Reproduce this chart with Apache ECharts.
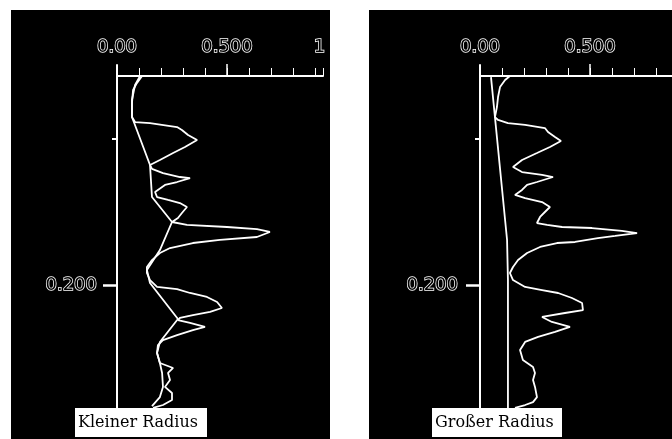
<!DOCTYPE html>
<html>
<head>
<meta charset="utf-8">
<script src="https://cdn.jsdelivr.net/npm/echarts@6/dist/echarts.min.js"></script>
<style>
html,body{margin:0;padding:0;background:#fff;}
#chart{width:672px;height:439px;}
</style>
</head>
<body>
<div id="chart"></div>
<script>
// ---- data (x = value on top axis, y = depth on vertical axis) ----
const panelTitles = ['Kleiner Radius', 'Großer Radius'];

const leftXLabelValues = [0, 0.5, 0.92];
const leftXLabelTexts = ['0.00', '0.500', '1'];
const rightXLabelValues = [0, 0.5];
const rightXLabelTexts = ['0.00', '0.500'];
const yLabelValues = [0.2];
const yLabelTexts = ['0.200'];
const yMinorTickValues = [0.1];

const leftCurve = [
  [0.114,0.0575],[0.091,0.0622],[0.073,0.0670],[0.068,0.0759],[0.068,0.0854],[0.082,0.0888],
  [0.150,0.0895],[0.273,0.0922],[0.295,0.0942],[0.323,0.0976],[0.364,0.1010],[0.309,0.1058],
  [0.255,0.1099],[0.195,0.1146],[0.150,0.1180],[0.159,0.1207],[0.209,0.1235],[0.286,0.1262],
  [0.332,0.1269],[0.273,0.1296],[0.218,0.1316],[0.173,0.1364],[0.182,0.1398],[0.232,0.1418],
  [0.286,0.1439],[0.318,0.1466],[0.295,0.1507],[0.277,0.1541],[0.250,0.1568],[0.318,0.1588],
  [0.500,0.1602],[0.636,0.1616],[0.695,0.1636],[0.636,0.1670],[0.468,0.1690],[0.345,0.1711],
  [0.241,0.1745],[0.195,0.1779],[0.159,0.1827],[0.136,0.1874],[0.136,0.1915],[0.150,0.1963],
  [0.182,0.2010],[0.273,0.2024],[0.332,0.2051],[0.409,0.2078],[0.455,0.2112],[0.477,0.2153],
  [0.423,0.2180],[0.345,0.2201],[0.286,0.2221],[0.277,0.2235],[0.332,0.2255],[0.400,0.2282],
  [0.345,0.2303],[0.273,0.2337],[0.209,0.2371],[0.186,0.2405],[0.182,0.2459],[0.195,0.2527],
  [0.255,0.2561],[0.232,0.2595],[0.241,0.2643],[0.218,0.2690],[0.250,0.2731],[0.250,0.2779],
  [0.209,0.2813],[0.164,0.2833]
];
const leftBase = [
  [0.105,0.0575],[0.082,0.0636],[0.068,0.0738],[0.068,0.0854],[0.150,0.1180],[0.159,0.1398],
  [0.250,0.1568],[0.195,0.1759],[0.136,0.1895],[0.150,0.1983],[0.277,0.2228],[0.195,0.2384],
  [0.182,0.2459],[0.195,0.2527],[0.205,0.2595],[0.209,0.2690],[0.195,0.2759],[0.159,0.2820]
];
const rightCurve = [
  [0.136,0.0575],[0.114,0.0602],[0.091,0.0650],[0.082,0.0718],[0.077,0.0786],[0.068,0.0854],
  [0.082,0.0874],[0.127,0.0895],[0.205,0.0908],[0.295,0.0929],[0.309,0.0956],[0.341,0.0990],
  [0.368,0.1017],[0.318,0.1058],[0.259,0.1099],[0.191,0.1146],[0.150,0.1194],[0.191,0.1228],
  [0.282,0.1248],[0.332,0.1262],[0.259,0.1296],[0.214,0.1316],[0.191,0.1350],[0.159,0.1384],
  [0.205,0.1405],[0.282,0.1432],[0.318,0.1466],[0.295,0.1500],[0.273,0.1534],[0.259,0.1575],
  [0.305,0.1588],[0.373,0.1602],[0.509,0.1609],[0.645,0.1629],[0.714,0.1643],[0.614,0.1663],
  [0.536,0.1677],[0.432,0.1704],[0.350,0.1711],[0.273,0.1738],[0.214,0.1779],[0.173,0.1827],
  [0.150,0.1874],[0.136,0.1915],[0.150,0.1963],[0.205,0.2010],[0.282,0.2031],[0.355,0.2051],
  [0.418,0.2085],[0.464,0.2119],[0.468,0.2167],[0.386,0.2187],[0.282,0.2214],[0.327,0.2248],
  [0.409,0.2282],[0.341,0.2316],[0.264,0.2350],[0.205,0.2384],[0.182,0.2439],[0.195,0.2507],
  [0.241,0.2554],[0.250,0.2595],[0.241,0.2643],[0.250,0.2690],[0.259,0.2759],[0.241,0.2793],
  [0.205,0.2813],[0.159,0.2833]
];
const rightBase = [
  [0.050,0.0582],[0.123,0.1690],[0.127,0.1963],[0.127,0.3000]
];

// ---- chart ----
const labelFont = {
  color: '#000', textBorderColor: '#fff', textBorderWidth: 1.5,
  fontFamily: 'DejaVu Sans', fontSize: 18
};
function fmt(values, texts) {
  return function (v) {
    const i = values.findIndex(a => Math.abs(a - v) < 1e-9);
    return i >= 0 ? texts[i] : '';
  };
}
const Y_MIN = 0.05, Y_MAX = 0.30;

function xMain(grid, max, lv, lt) {
  return {
    type: 'value', gridIndex: grid, position: 'top', offset: -11,
    min: 0, max: max, interval: 0.1,
    axisLine: { show: true, lineStyle: { color: '#fff', width: 2 } },
    axisTick: { show: true, inside: false, length: 8, lineStyle: { color: '#fff', width: 1 } },
    axisLabel: Object.assign({ show: true, margin: 20, customValues: lv, formatter: fmt(lv, lt) }, labelFont),
    splitLine: { show: false }
  };
}
function xMajor(grid, max) {
  return {
    type: 'value', gridIndex: grid, position: 'top', offset: -11,
    min: 0, max: max,
    axisLine: { show: false },
    axisTick: { show: true, length: 12, customValues: [0.5], lineStyle: { color: '#fff', width: 1.5 } },
    axisLabel: { show: false },
    splitLine: { show: false }
  };
}
function yMain(grid, margin) {
  return {
    type: 'value', gridIndex: grid, position: 'left', inverse: true,
    min: Y_MIN, max: Y_MAX,
    axisLine: { show: true, lineStyle: { color: '#fff', width: 2 } },
    axisTick: { show: true, length: 14, customValues: yLabelValues, lineStyle: { color: '#fff', width: 2.5 } },
    axisLabel: Object.assign({ show: true, margin: margin, customValues: yLabelValues, formatter: fmt(yLabelValues, yLabelTexts) }, labelFont),
    splitLine: { show: false }
  };
}
function yMinor(grid) {
  return {
    type: 'value', gridIndex: grid, position: 'left', inverse: true, offset: 0,
    min: Y_MIN, max: Y_MAX,
    axisLine: { show: false },
    axisTick: { show: true, length: 5, customValues: yMinorTickValues, lineStyle: { color: '#fff', width: 2 } },
    axisLabel: { show: false },
    splitLine: { show: false }
  };
}
function lineSeries(data, xi, yi) {
  return {
    type: 'line', data: data, xAxisIndex: xi, yAxisIndex: yi,
    showSymbol: false, symbol: 'none', smooth: false, clip: false,
    lineStyle: { color: '#fff', width: 1.8 }, z: 5
  };
}

const chart = echarts.init(document.getElementById('chart'), null, { renderer: 'canvas' });
chart.setOption({
  animation: false,
  backgroundColor: '#fff',
  grid: [
    { left: 117, top: 65, width: 206, height: (Y_MAX - Y_MIN) * 1470 },
    { left: 480, top: 65, width: 192, height: (Y_MAX - Y_MIN) * 1470 }
  ],
  xAxis: [
    xMain(0, 206 / 220, leftXLabelValues, leftXLabelTexts),
    xMajor(0, 206 / 220),
    xMain(1, 192 / 220, rightXLabelValues, rightXLabelTexts),
    xMajor(1, 192 / 220)
  ],
  yAxis: [yMain(0, 20), yMinor(0), yMain(1, 22), yMinor(1)],
  series: [
    lineSeries(leftCurve, 0, 0),
    lineSeries(leftBase, 0, 0),
    lineSeries(rightCurve, 2, 2),
    lineSeries(rightBase, 2, 2)
  ],
  graphic: [
    { type: 'rect', z: -10, silent: true, shape: { x: 11, y: 10, width: 319, height: 429 }, style: { fill: '#000' } },
    { type: 'rect', z: -10, silent: true, shape: { x: 369, y: 10, width: 303, height: 429 }, style: { fill: '#000' } },
    { type: 'rect', z: 100, silent: true, shape: { x: 75, y: 408, width: 132, height: 29 }, style: { fill: '#fff' } },
    { type: 'text', z: 101, silent: true, x: 78, y: 423,
      style: { text: panelTitles[0], fill: '#000', font: '16px "DejaVu Serif"', textVerticalAlign: 'middle', verticalAlign: 'middle' } },
    { type: 'rect', z: 100, silent: true, shape: { x: 432, y: 408, width: 130, height: 29 }, style: { fill: '#fff' } },
    { type: 'text', z: 101, silent: true, x: 435, y: 423,
      style: { text: panelTitles[1], fill: '#000', font: '16px "DejaVu Serif"', textVerticalAlign: 'middle', verticalAlign: 'middle' } }
  ]
});
</script>
</body>
</html>
